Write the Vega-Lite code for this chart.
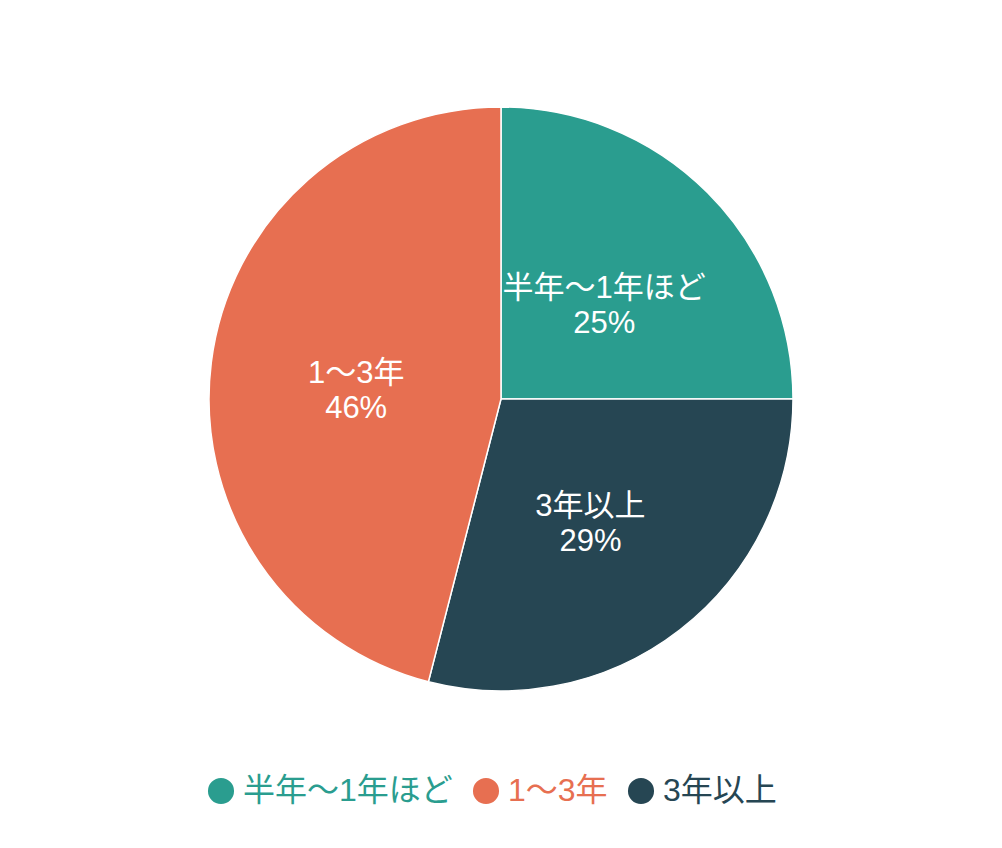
{
  "$schema": "https://vega.github.io/schema/vega-lite/v6.json",
  "width": 1002,
  "height": 798,
  "autosize": "none",
  "padding": {"top": 0, "left": 0, "right": 0, "bottom": 50},
  "background": "white",
  "data": {
    "values": [
      {"category": "半年〜1年ほど", "pct": 25, "ord": 1, "label": "半年〜1年ほど\n25%"},
      {"category": "3年以上", "pct": 29, "ord": 2, "label": "3年以上\n29%"},
      {"category": "1〜3年", "pct": 46, "ord": 3, "label": "1〜3年\n46%"}
    ]
  },
  "encoding": {
    "theta": {"field": "pct", "type": "quantitative", "stack": true},
    "order": {"field": "ord", "type": "quantitative"}
  },
  "layer": [
    {
      "mark": {"type": "arc", "radius": 292, "stroke": "white", "strokeWidth": 1.5},
      "encoding": {
        "color": {
          "field": "category",
          "type": "nominal",
          "scale": {
            "domain": ["半年〜1年ほど", "1〜3年", "3年以上"],
            "range": ["#2a9d8f", "#e76f51", "#264653"]
          },
          "legend": {
            "orient": "none",
            "direction": "horizontal",
            "legendX": 205,
            "legendY": 775,
            "title": null,
            "padding": 0,
            "symbolType": "circle",
            "symbolSize": 680,
            "symbolStrokeWidth": 0,
            "symbolOpacity": 1,
            "labelFont": "Liberation Sans, Noto Sans CJK JP",
            "labelFontSize": 32,
            "labelOffset": 6,
            "columnPadding": 17,
            "labelLimit": 400,
            "labelColor": {"expr": "scale('color', datum.value)"}
          }
        }
      }
    },
    {
      "mark": {
        "type": "text",
        "radius": 146,
        "dy": -7,
        "fill": "white",
        "font": "Liberation Sans, Noto Sans CJK JP",
        "fontSize": 31,
        "lineBreak": "\n",
        "lineHeight": 35,
        "align": "center",
        "baseline": "middle"
      },
      "encoding": {
        "text": {"field": "label", "type": "nominal"}
      }
    }
  ]
}
